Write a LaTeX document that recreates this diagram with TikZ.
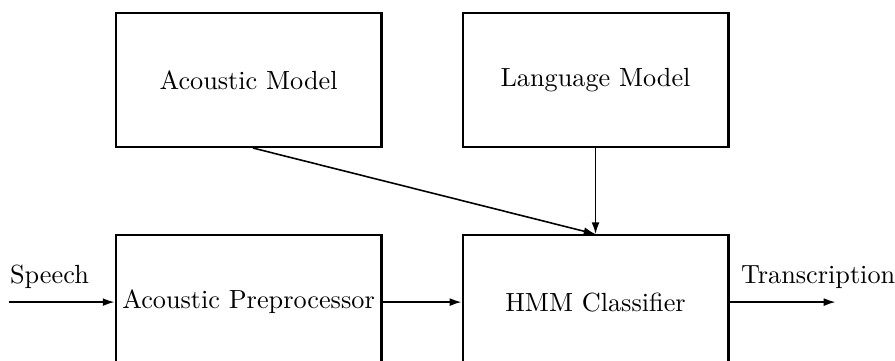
\documentclass[tikz,border=0pt]{standalone}
\usetikzlibrary{arrows.meta,positioning}
\tikzset{
  blockbox/.style={draw, line width=0.8pt, minimum width=101.3pt, minimum height=51pt,
                   inner sep=2pt, align=center},
  sigtext/.style={anchor=base west, inner sep=0pt},
  arr/.style={-{Latex[length=4.5pt,width=3pt]}, line width=0.6pt}}
\begin{document}
\begin{tikzpicture}
  \useasboundingbox (0,0) rectangle (341pt,-137.5pt);
  \node[blockbox] (am) at (94.7pt,-30.5pt) {Acoustic Model};
  \node[blockbox, right=30.1pt of am] (lm) {Language Model};
  \node[blockbox, below=32.8pt of am] (pre) {Acoustic Preprocessor};
  \node[blockbox, below=32.8pt of lm] (hmm) {HMM Classifier};
  \coordinate[left=40.4pt of pre.west] (speechin);
  \coordinate[right=40.4pt of hmm.east] (transout);
  \node[sigtext] (speech) at ([xshift=0.4pt,yshift=7.2pt]speechin) {Speech};
  \node[sigtext] (trans) at ([xshift=4.2pt,yshift=7.2pt]hmm.east) {Transcription};
  \draw[arr] (speechin) -- (pre);
  \draw[arr] (pre) -- (hmm);
  \draw[arr] (hmm) -- (transout);
  \draw[arr] (lm) -- (hmm);
  \draw[arr] ([xshift=1.7pt]am.south) -- (hmm.north);
\end{tikzpicture}
\end{document}
